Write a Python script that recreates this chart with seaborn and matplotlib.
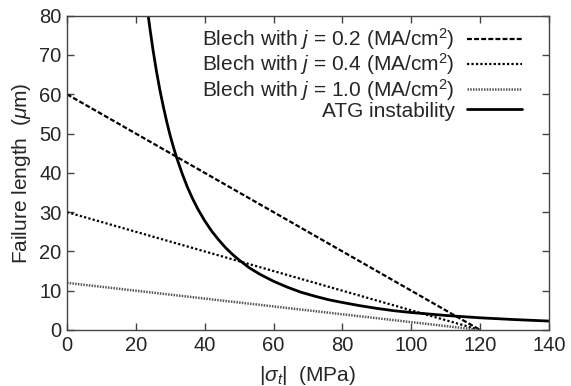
import matplotlib
matplotlib.use("Agg")
import matplotlib.pyplot as plt
import seaborn as sns

# Blech lines
blech_x = [0, 120]
blech_02 = [60, 0]
blech_04 = [30, 0]
blech_10 = [12, 0]

# ATG instability curve (read points)
atg_x = [23.6, 24, 25, 26, 27, 28, 29, 30, 31, 32, 33.5, 35, 36.5, 38, 40, 42, 44, 46, 48, 50,
         53, 56, 60, 64, 68, 72, 76, 80, 85, 90, 95, 100, 110, 120, 130, 140]
atg_y = [80, 77.3, 71.2, 65.8, 61.0, 56.8, 52.9, 49.4, 46.3, 43.5, 39.7, 36.3, 33.4, 30.8, 27.8,
         25.2, 23.0, 21.0, 19.3, 17.8, 15.8, 14.2, 12.4, 10.9, 9.6, 8.6, 7.7, 7.0, 6.2, 5.5, 4.9,
         4.45, 3.7, 3.1, 2.65, 2.27]

labels = [r"Blech with $j$ = 0.2 (MA/cm$^2$)",
          r"Blech with $j$ = 0.4 (MA/cm$^2$)",
          r"Blech with $j$ = 1.0 (MA/cm$^2$)",
          "ATG instability"]

sns.set_style("ticks")
plt.rcParams['font.family'] = ['Liberation Sans', 'DejaVu Sans']
plt.rcParams['mathtext.fontset'] = 'custom'
plt.rcParams['mathtext.rm'] = 'Liberation Sans'
plt.rcParams['mathtext.it'] = 'Liberation Sans:italic'
plt.rcParams['mathtext.bf'] = 'Liberation Sans:bold'

fig = plt.figure(figsize=(5.71, 3.86), dpi=100)
ax = fig.add_axes([0.1173, 0.1451, 0.8442, 0.8142])

sns.lineplot(x=blech_x, y=blech_02, ax=ax, color='black', lw=1.6,
             linestyle=(0, (2.2, 1.0)), label=labels[0])
sns.lineplot(x=blech_x, y=blech_04, ax=ax, color='black', lw=1.6,
             linestyle=(0, (1.0, 1.0)), label=labels[1])
sns.lineplot(x=blech_x, y=blech_10, ax=ax, color='#555555', lw=1.8,
             linestyle=(0, (0.6, 0.5)), label=labels[2])
sns.lineplot(x=atg_x, y=atg_y, ax=ax, color='black', lw=2.0,
             linestyle='-', label=labels[3])

ax.set_xlim(0, 140)
ax.set_ylim(0, 80)
ax.set_xticks(range(0, 141, 20))
ax.set_yticks(range(0, 81, 10))
ax.tick_params(direction='in', top=True, right=True, labelsize=14.5, length=5,
               width=1, color='#444444', pad=4)
for s in ax.spines.values():
    s.set_color('#444444')
    s.set_linewidth(1)

ax.set_xlabel(r"$|\sigma_t|$  (MPa)", fontsize=15, labelpad=7)
ax.set_ylabel(r"Failure length  ($\mu$m)", fontsize=15, labelpad=4)

leg = ax.legend(loc='upper right', frameon=False, markerfirst=False,
                fontsize=15, handlelength=2.65, labelspacing=-0.04,
                handletextpad=0.6, borderaxespad=0.3,
                bbox_to_anchor=(0.975, 1.012))

fig.savefig("out.png", dpi=100)
